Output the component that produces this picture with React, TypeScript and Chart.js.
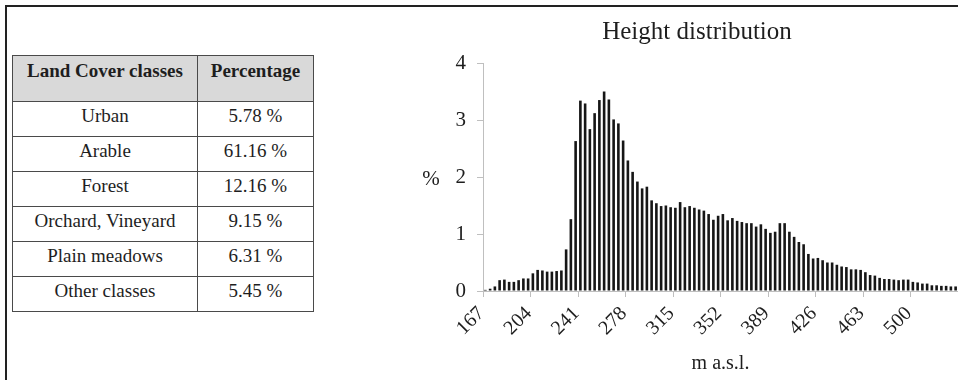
import React, { useEffect, useRef } from "react";
import { Chart, registerables } from "chart.js";

Chart.register(...registerables);

// ---- Table data ----
const landCoverClasses = ["Urban", "Arable", "Forest", "Orchard, Vineyard", "Plain meadows", "Other classes"];
const landCoverPercent = ["5.78 %", "61.16 %", "12.16 %", "9.15 %", "6.31 %", "5.45 %"];

// ---- Histogram data (share of area, %) per height bin ----
const heightShare = [
  0.02, 0.04, 0.08, 0.19, 0.20, 0.16, 0.16, 0.19, 0.22, 0.22,
  0.31, 0.37, 0.36, 0.34, 0.34, 0.35, 0.36, 0.73, 1.26, 2.63,
  3.34, 3.29, 2.84, 3.12, 3.35, 3.50, 3.36, 3.01, 2.94, 2.64,
  2.29, 2.09, 1.92, 1.80, 1.83, 1.59, 1.54, 1.49, 1.50, 1.47,
  1.46, 1.56, 1.47, 1.49, 1.46, 1.43, 1.41, 1.35, 1.25, 1.32,
  1.35, 1.24, 1.28, 1.23, 1.21, 1.19, 1.19, 1.13, 1.17, 1.09,
  1.02, 1.04, 1.19, 1.19, 1.04, 0.95, 0.86, 0.82, 0.65, 0.57,
  0.58, 0.54, 0.50, 0.50, 0.46, 0.43, 0.42, 0.38, 0.38, 0.37,
  0.33, 0.28, 0.27, 0.23, 0.21, 0.21, 0.20, 0.19, 0.20, 0.20,
  0.16, 0.15, 0.13, 0.13, 0.10, 0.10, 0.09, 0.09, 0.08, 0.08,
];
// labelled every 10th bin
const heightTickLabels = ["167", "204", "241", "278", "315", "352", "389", "426", "463", "500"];
const binsPerTick = 10;
const categories = heightShare.map((_, i) =>
  i % binsPerTick === 0 && heightTickLabels[i / binsPerTick] !== undefined ? heightTickLabels[i / binsPerTick] : ""
);

const SERIF = "'Liberation Serif', 'Times New Roman', serif";
const TEXT = "#1e1e1e";
const AXIS = "#bfbfbf";

const percentLabel = {
  id: "percentLabel",
  afterDraw(chart: any) {
    const y = chart.scales.y;
    const ctx = chart.ctx;
    ctx.save();
    ctx.font = `21px ${SERIF}`;
    ctx.fillStyle = TEXT;
    ctx.textAlign = "center";
    ctx.textBaseline = "middle";
    ctx.fillText("%", y.left - 5, y.getPixelForValue(2) + 2);
    ctx.restore();
  },
};

function HeightChart() {
  const ref = useRef<HTMLCanvasElement>(null);
  useEffect(() => {
    if (!ref.current) return;
    const chart = new Chart(ref.current, {
      type: "bar",
      data: {
        labels: categories,
        datasets: [
          {
            data: heightShare,
            backgroundColor: "#161616",
            barPercentage: 0.55,
            categoryPercentage: 1.0,
          },
        ],
      },
      options: {
        animation: false,
        responsive: false,
        maintainAspectRatio: false,
        layout: { padding: { left: 36, right: 0, top: 0, bottom: 0 } },
        plugins: {
          legend: { display: false },
          tooltip: { enabled: false },
          title: {
            display: true,
            text: "Height distribution",
            color: TEXT,
            font: { family: SERIF, size: 25, weight: "normal" },
            padding: { top: 9, bottom: 16 },
          },
        },
        scales: {
          x: {
            offset: true,
            grid: {
              offset: true,
              drawOnChartArea: false,
              drawTicks: true,
              tickLength: 6,
              color: (c: any) => (typeof c.index === "number" && c.index % binsPerTick === 0 ? AXIS : "rgba(0,0,0,0)"),
            },
            border: { display: true, color: AXIS },
            ticks: {
              autoSkip: false,
              minRotation: 45,
              maxRotation: 45,
              color: TEXT,
              padding: 5,
              labelOffset: -4,
              font: { family: SERIF, size: 20 },
            },
            title: {
              display: true,
              text: "m a.s.l.",
              color: TEXT,
              font: { family: SERIF, size: 20 },
              padding: { top: 0, bottom: 4 },
            },
            afterFit: (s: any) => {
              s.height = 89;
              s.paddingLeft = 0;
              s.paddingRight = 0;
            },
          },
          y: {
            min: 0,
            max: 4,
            ticks: {
              stepSize: 1,
              color: TEXT,
              padding: 11,
              font: { family: SERIF, size: 21 },
            },
            grid: {
              drawOnChartArea: false,
              drawTicks: true,
              tickLength: 6,
              color: AXIS,
            },
            border: { display: true, color: AXIS },
            afterFit: (s: any) => {
              s.width = 47;
            },
          },
        },
      },
      plugins: [percentLabel],
    });
    return () => chart.destroy();
  }, []);
  return <canvas ref={ref} width={558} height={372} style={{ position: "absolute", left: 400, top: 8, width: 558, height: 372 }} />;
}

const cellBorder = "1px solid #4a4a4a";

function LandCoverTable() {
  const th: React.CSSProperties = {
    border: cellBorder,
    background: "#d9d9d9",
    fontWeight: "bold",
    verticalAlign: "top",
    padding: "4px 0 0 0",
    height: 46,
    boxSizing: "border-box",
    textAlign: "center",
  };
  const td: React.CSSProperties = {
    border: cellBorder,
    verticalAlign: "top",
    padding: "3px 0 0 0",
    height: 35,
    boxSizing: "border-box",
    textAlign: "center",
  };
  return (
    <table
      style={{
        position: "absolute",
        left: 12,
        top: 55,
        width: 301,
        borderCollapse: "collapse",
        fontFamily: SERIF,
        fontSize: 19,
        lineHeight: "22px",
        color: TEXT,
        tableLayout: "fixed",
      }}
    >
      <colgroup>
        <col style={{ width: 185 }} />
        <col style={{ width: 116 }} />
      </colgroup>
      <thead>
        <tr>
          <th style={th}>Land Cover classes</th>
          <th style={th}>Percentage</th>
        </tr>
      </thead>
      <tbody>
        {landCoverClasses.map((c, i) => (
          <tr key={c}>
            <td style={td}>{c}</td>
            <td style={td}>{landCoverPercent[i]}</td>
          </tr>
        ))}
      </tbody>
    </table>
  );
}

export default function App() {
  return (
    <div style={{ position: "absolute", left: 0, top: 0, width: 958, height: 380, background: "#fff", overflow: "hidden" }}>
      <div
        style={{
          position: "absolute",
          left: 5,
          top: 5,
          right: 0,
          bottom: 0,
          borderTop: "2px solid #222",
          borderLeft: "2px solid #222",
        }}
      />
      <LandCoverTable />
      <HeightChart />
    </div>
  );
}
